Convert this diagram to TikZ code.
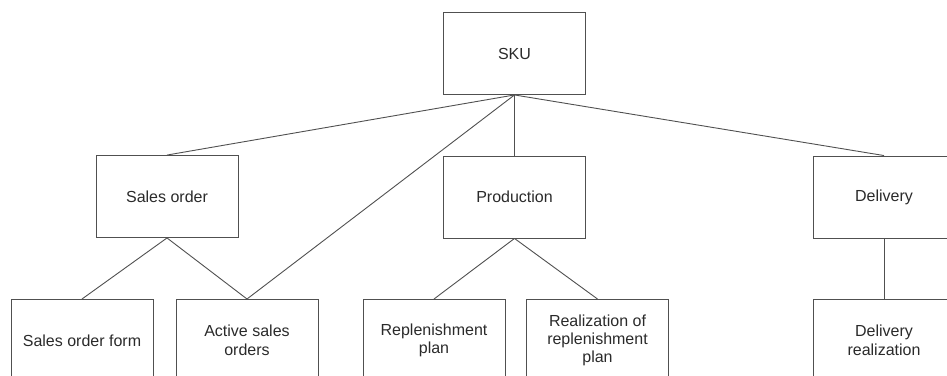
\documentclass[tikz,border=0pt]{standalone}
\usepackage{fontspec}
\setmainfont{Liberation Sans}
\definecolor{linegray}{HTML}{505050}
\definecolor{textgray}{HTML}{2A2A2A}
\begin{document}
\begin{tikzpicture}[x=1pt,y=-1pt,
  box/.style={draw=linegray, line width=0.9pt, minimum width=142pt, minimum height=82pt,
    inner sep=0pt, align=center, text=textgray, font=\fontsize{16}{18.4}\selectfont},
  link/.style={draw=linegray, line width=0.9pt}]
\useasboundingbox (0,0) rectangle (947,375);
\clip (0,0) rectangle (947,375);
\node[box] (sku) at (514.5,53.5) {SKU};
\node[box] (so) at (167,196.5) {Sales order};
\node[box] (prod) at (514.5,197) {Production};
\node[box] (del) at (884,197) {Delivery};
\node[box, anchor=north] (sof) at (82,299) {Sales order form};
\node[box, anchor=north] (aso) at (247,299) {Active sales\\orders};
\node[box, anchor=north] (rep) at (434,299) {Replenishment\\plan};
\node[box, anchor=north] (real) at (597.5,299) {Realization of\\replenishment\\plan};
\node[box, anchor=north] (dr) at (884,299) {Delivery\\realization};
\draw[link] (sku.south) -- (so.north);
\draw[link] (sku.south) -- (aso.north);
\draw[link] (sku.south) -- (prod.north);
\draw[link] (sku.south) -- (del.north);
\draw[link] (so.south) -- (sof.north);
\draw[link] (so.south) -- (aso.north);
\draw[link] (prod.south) -- (rep.north);
\draw[link] (prod.south) -- (real.north);
\draw[link] (del.south) -- (dr.north);
\end{tikzpicture}
\end{document}
